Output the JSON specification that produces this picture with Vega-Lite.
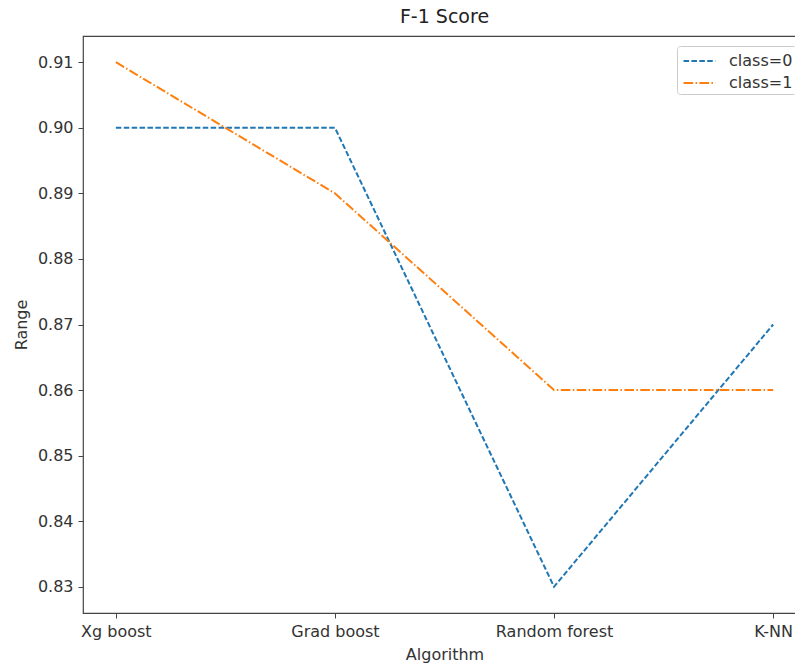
{
  "$schema": "https://vega.github.io/schema/vega-lite/v6.json",
  "autosize": {"type": "none"},
  "padding": {"left": 83, "top": 36, "right": 10, "bottom": 50},
  "width": 723,
  "height": 577,
  "background": "white",
  "title": {"text": "F-1 Score", "font": "DejaVu Sans", "fontSize": 19, "fontWeight": "normal", "color": "#222", "offset": 9, "anchor": "middle"},
  "config": {
    "view": {"stroke": "#444", "strokeWidth": 1.2},
    "font": "DejaVu Sans",
    "axis": {"labelFont": "DejaVu Sans", "titleFont": "DejaVu Sans", "labelFontSize": 16, "titleFontSize": 16, "titleFontWeight": "normal", "labelColor": "#333", "titleColor": "#333", "tickColor": "#444", "domain": false, "grid": false, "tickSize": 5, "labelPadding": 5}
  },
  "data": {"values": [
    {"algorithm": "Xg boost", "class": "class=0", "value": 0.90},
    {"algorithm": "Grad boost", "class": "class=0", "value": 0.90},
    {"algorithm": "Random forest", "class": "class=0", "value": 0.83},
    {"algorithm": "K-NN", "class": "class=0", "value": 0.87},
    {"algorithm": "Xg boost", "class": "class=1", "value": 0.91},
    {"algorithm": "Grad boost", "class": "class=1", "value": 0.89},
    {"algorithm": "Random forest", "class": "class=1", "value": 0.86},
    {"algorithm": "K-NN", "class": "class=1", "value": 0.86}
  ]},
  "mark": {"type": "line", "strokeWidth": 2},
  "encoding": {
    "x": {"field": "algorithm", "type": "nominal", "sort": null, "title": "Algorithm",
      "scale": {"type": "point", "padding": 0.15},
      "axis": {"labelAngle": 0, "titleY": 33, "titlePadding": 2}},
    "y": {"field": "value", "type": "quantitative", "title": "Range",
      "scale": {"domain": [0.826, 0.914], "nice": false, "zero": false},
      "axis": {"values": [0.83, 0.84, 0.85, 0.86, 0.87, 0.88, 0.89, 0.90, 0.91], "format": ".2f", "titlePadding": 8}},
    "color": {"field": "class", "type": "nominal",
      "scale": {"domain": ["class=0", "class=1"], "range": ["#1f77b4", "#ff7f0e"]},
      "legend": {"title": null, "orient": "none", "legendX": 594, "legendY": 10, "labelFontSize": 16, "labelFont": "DejaVu Sans", "labelColor": "#333", "labelOffset": 17.5, "symbolType": "M-1.45,0H1.45", "symbolSize": 484, "symbolOffset": 7.5, "symbolStrokeWidth": 2, "padding": 3, "strokeColor": "#ccc", "cornerRadius": 3, "fillColor": "white", "rowPadding": 2}},
    "strokeDash": {"field": "class", "type": "nominal",
      "scale": {"domain": ["class=0", "class=1"], "range": [[5.5, 2.4], [9.6, 2.4, 1.5, 2.4]]},
      "legend": {"title": null}}
  }
}
